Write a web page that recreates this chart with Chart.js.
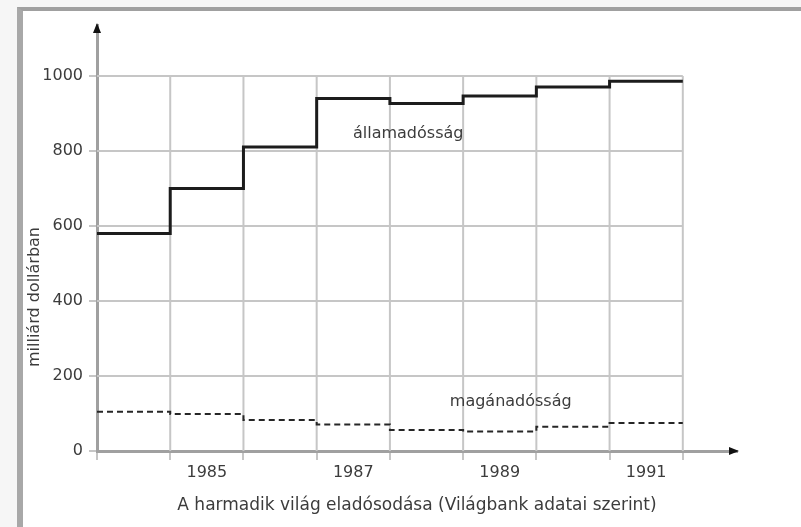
<!DOCTYPE html>
<html>
<head>
<meta charset="utf-8">
<script src="https://cdn.jsdelivr.net/npm/chart.js@4.4.1/dist/chart.umd.min.js"></script>
<style>
  html, body { margin: 0; padding: 0; background: #f6f6f6; }
  #wrap { position: relative; width: 801px; height: 527px; overflow: hidden; }
  #frame {
    position: absolute; left: 17px; top: 7px; width: 820px; height: 560px;
    background: #fff; border-top: 4px solid #a0a0a0; border-left: 6px solid #a8a8a8;
  }
  canvas { position: absolute; left: 0; top: 0; }
</style>
</head>
<body>
<div id="wrap">
  <div id="frame"></div>
  <canvas id="debt-chart" width="801" height="527"></canvas>
</div>
<script>
// values (billion dollars)
const years = [1984, 1985, 1986, 1987, 1988, 1989, 1990, 1991];
const stateDebt = [580, 700, 811, 940, 927, 947, 971, 986];
const privateDebt = [105, 99, 83, 71, 56, 52, 65, 75];
const yTicks = [0, 200, 400, 600, 800, 1000];
const xTickLabels = ['1985', '1987', '1989', '1991'];

const FONT = 'DejaVu Sans';
const TEXT = '#3c3c3c';
const GRID = '#c6c6c6';

// one grid line per year boundary, the last year closes the step
const gridYears = [...years, years[years.length - 1] + 1];

const toSteps = vals => {
  const pts = vals.map((v, i) => ({ x: years[i], y: v }));
  pts.push({ x: gridYears[gridYears.length - 1], y: vals[vals.length - 1] });
  return pts;
};

const line = (ctx, ax, ay, bx, by) => {
  ctx.beginPath(); ctx.moveTo(ax, ay); ctx.lineTo(bx, by); ctx.stroke();
};

const boxPlugin = {
  id: 'boxGrid',
  beforeDatasetsDraw(chart) {
    const { ctx, scales: { x, y } } = chart;
    const x0 = x.getPixelForValue(gridYears[0]);
    const x1 = x.getPixelForValue(gridYears[gridYears.length - 1]);
    const y0 = y.getPixelForValue(0);
    const y1 = y.getPixelForValue(yTicks[yTicks.length - 1]);
    ctx.save();
    ctx.strokeStyle = GRID;
    ctx.lineWidth = 2;
    yTicks.slice(1).forEach(v => { const p = y.getPixelForValue(v); line(ctx, x0, p, x1, p); });
    gridYears.slice(1).forEach(v => { const p = x.getPixelForValue(v); line(ctx, p, y0, p, y1); });
    ctx.restore();
  },
  afterDraw(chart) {
    const { ctx, chartArea: a, scales: { x, y } } = chart;
    const y0 = y.getPixelForValue(0);
    const x0 = x.getPixelForValue(gridYears[0]);
    ctx.save();
    // arrow heads
    ctx.fillStyle = '#111';
    ctx.beginPath();
    ctx.moveTo(a.right + 2, y0); ctx.lineTo(a.right - 8, y0 - 4); ctx.lineTo(a.right - 8, y0 + 4);
    ctx.closePath(); ctx.fill();
    ctx.beginPath();
    ctx.moveTo(x0, a.top - 2); ctx.lineTo(x0 - 4, a.top + 8); ctx.lineTo(x0 + 4, a.top + 8);
    ctx.closePath(); ctx.fill();

    ctx.fillStyle = TEXT;
    ctx.textAlign = 'center';
    ctx.textBaseline = 'middle';
    ctx.font = `16px "${FONT}"`;
    ctx.fillText('államadósság', x.getPixelForValue(1988.25), y.getPixelForValue(845));
    ctx.fillText('magánadósság', x.getPixelForValue(1989.65), y.getPixelForValue(130));

    // y axis title
    ctx.translate(35, 297);
    ctx.rotate(-Math.PI / 2);
    ctx.fillText('milliárd dollárban', 0, 0);
    ctx.restore();
  }
};

new Chart(document.getElementById('debt-chart'), {
  type: 'line',
  data: {
    datasets: [
      {
        label: 'államadósság',
        data: toSteps(stateDebt),
        stepped: 'before',
        borderColor: '#1c1c1c',
        borderWidth: 3,
        pointRadius: 0,
        fill: false
      },
      {
        label: 'magánadósság',
        data: toSteps(privateDebt),
        stepped: 'before',
        borderColor: '#262626',
        borderWidth: 2,
        borderDash: [6, 4],
        pointRadius: 0,
        fill: false
      }
    ]
  },
  options: {
    responsive: false,
    animation: false,
    layout: { padding: { left: 20, top: 25, right: 64, bottom: 0 } },
    plugins: { legend: { display: false }, tooltip: { enabled: false } },
    scales: {
      x: {
        type: 'linear',
        min: 1984,
        max: 1992.74,
        afterBuildTicks: s => { s.ticks = gridYears.map(v => ({ value: v })); },
        afterFit: s => { s.height = 76; },
        ticks: {
          autoSkip: false,
          maxRotation: 0,
          labelOffset: 36.6,
          padding: 3,
          color: TEXT,
          font: { family: FONT, size: 16 },
          callback: v => xTickLabels.includes(String(v)) ? String(v) : ''
        },
        grid: { drawOnChartArea: false, drawTicks: true, tickLength: 9, color: GRID, lineWidth: 2 },
        border: { display: true, color: '#a0a0a0', width: 3 },
        title: {
          display: true,
          text: 'A harmadik világ eladósodása (Világbank adatai szerint)',
          color: TEXT,
          font: { family: FONT, size: 17 },
          padding: { top: 2, bottom: 11 }
        }
      },
      y: {
        min: 0,
        max: 1136,
        afterBuildTicks: s => { s.ticks = yTicks.map(v => ({ value: v })); },
        afterFit: s => { s.width = 77; },
        ticks: { padding: 6, color: TEXT, font: { family: FONT, size: 16 }, callback: v => String(v) },
        grid: { drawOnChartArea: false, drawTicks: true, tickLength: 8, color: GRID, lineWidth: 2 },
        border: { display: true, color: '#a0a0a0', width: 3 }
      }
    }
  },
  plugins: [boxPlugin]
});
</script>
</body>
</html>
